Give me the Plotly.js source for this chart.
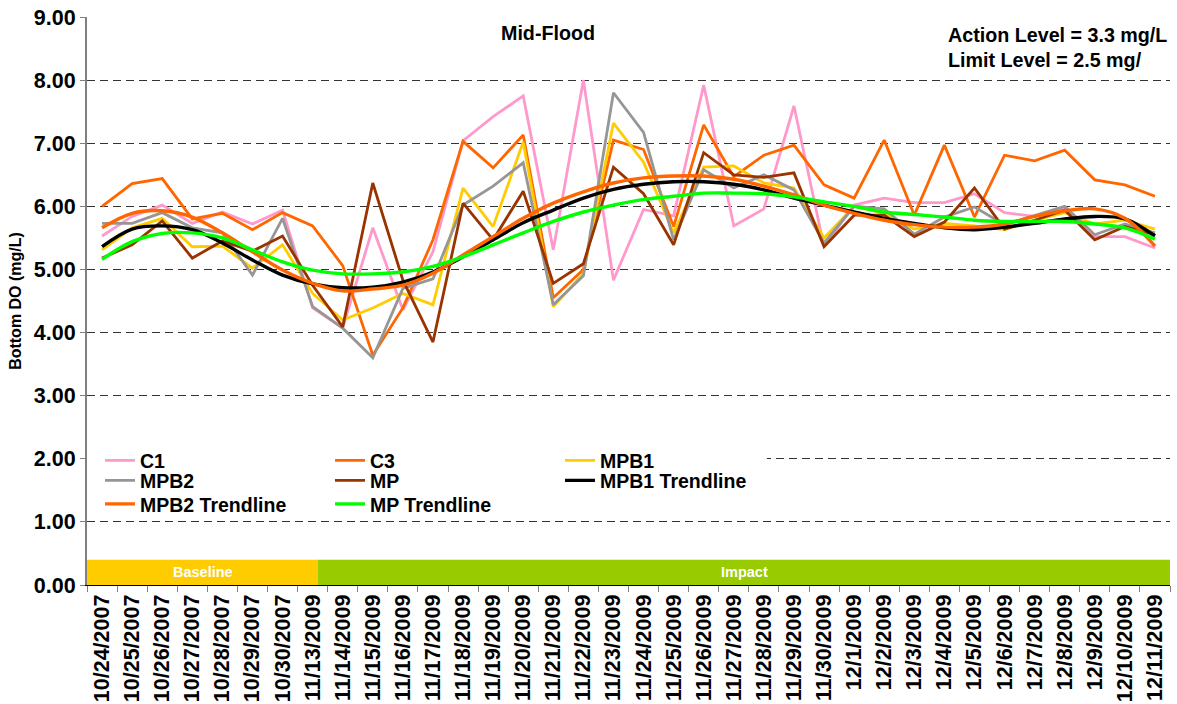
<!DOCTYPE html>
<html>
<head>
<meta charset="utf-8">
<script src="https://cdn.plot.ly/plotly-3.0.1.min.js"></script>
<style>html,body{margin:0;padding:0;background:#fff;}#chart{width:1177px;height:704px;}</style>
</head>
<body>
<div id="chart"></div>
<script>
var dates = ["10/24/2007","10/25/2007","10/26/2007","10/27/2007","10/28/2007","10/29/2007","10/30/2007",
  "11/13/2009","11/14/2009","11/15/2009","11/16/2009","11/17/2009","11/18/2009","11/19/2009","11/20/2009",
  "11/21/2009","11/22/2009","11/23/2009","11/24/2009","11/25/2009","11/26/2009","11/27/2009","11/28/2009",
  "11/29/2009","11/30/2009","12/1/2009","12/2/2009","12/3/2009","12/4/2009","12/5/2009","12/6/2009",
  "12/7/2009","12/8/2009","12/9/2009","12/10/2009","12/11/2009"];

var C1   = [5.53,5.84,6.02,5.73,5.91,5.72,5.94,4.39,4.07,5.66,4.36,5.28,7.04,7.42,7.75,5.31,8.00,4.83,5.95,5.85,7.92,5.69,5.96,7.59,5.36,6.02,6.13,6.06,6.06,6.20,5.90,5.84,5.96,5.52,5.52,5.34];
var C3   = [6.00,6.36,6.44,5.80,5.89,5.63,5.90,5.69,5.06,3.64,4.39,5.47,7.03,6.61,7.13,4.55,5.00,7.05,6.90,5.68,7.29,6.47,6.81,6.97,6.34,6.13,7.05,5.86,6.97,5.83,6.81,6.72,6.89,6.42,6.34,6.16];
var MPB1 = [5.31,5.66,5.81,5.36,5.37,5.02,5.39,4.62,4.20,4.39,4.62,4.44,6.29,5.68,7.02,4.41,4.94,7.32,6.70,5.58,6.62,6.64,6.37,6.29,5.50,6.00,5.89,5.64,5.73,5.69,5.63,5.78,5.90,5.72,5.78,5.64];
var MPB2 = [5.73,5.73,5.90,5.66,5.58,4.91,5.81,4.41,4.07,3.60,4.70,4.85,6.02,6.32,6.69,4.44,4.90,7.80,7.17,5.47,6.58,6.29,6.50,6.26,5.42,6.00,5.96,5.56,5.83,5.99,5.71,5.86,6.00,5.55,5.72,5.58];
var MP   = [5.18,5.39,5.77,5.18,5.45,5.29,5.53,4.75,4.09,6.37,4.83,3.85,6.05,5.47,6.24,4.78,5.09,6.62,6.20,5.39,6.85,6.50,6.46,6.53,5.36,5.86,5.86,5.52,5.75,6.29,5.64,5.78,5.94,5.47,5.68,5.55];

var MPB1_Trend = [5.36,5.64,5.69,5.63,5.42,5.15,4.91,4.77,4.71,4.72,4.80,4.96,5.20,5.47,5.74,5.94,6.13,6.27,6.35,6.39,6.39,6.35,6.26,6.13,6.02,5.91,5.81,5.73,5.66,5.63,5.67,5.73,5.80,5.84,5.80,5.53];
var MPB2_Trend = [5.66,5.89,5.93,5.83,5.58,5.28,4.99,4.78,4.66,4.69,4.75,4.94,5.23,5.52,5.81,6.05,6.23,6.37,6.45,6.48,6.48,6.43,6.32,6.18,6.02,5.89,5.78,5.71,5.67,5.67,5.72,5.84,5.93,5.96,5.81,5.37];
var MP_Trend   = [5.16,5.44,5.57,5.58,5.50,5.31,5.12,4.99,4.93,4.93,4.96,5.05,5.20,5.39,5.58,5.76,5.91,6.02,6.11,6.16,6.21,6.21,6.20,6.15,6.07,6.00,5.91,5.87,5.83,5.78,5.76,5.76,5.76,5.72,5.66,5.48];

var phaseNames = ["Baseline","Impact"];
var phaseFirst = ["10/24/2007","11/13/2009"];

var FONT = "Liberation Sans, Arial, Helvetica, sans-serif";

function line(name, y, color, width, legend, shape) {
  return {type:"scatter", mode:"lines", name:name, x:dates, y:y, legend:legend,
    line:{color:color, width:width, shape:shape||"linear", smoothing:1.0}, hoverinfo:"x+y+name"};
}

// legend rows: legend = row 1, legend2 = row 2, legend3 = row 3
var traces = [
  line("C1", C1, "#FF99CC", 2.8, "legend"),
  line("C3", C3, "#FF6600", 2.8, "legend"),
  line("MPB1", MPB1, "#FFCC00", 2.8, "legend"),
  line("MPB2", MPB2, "#969696", 2.8, "legend2"),
  line("MP", MP, "#993300", 2.8, "legend2"),
  line("MPB1 Trendline", MPB1_Trend, "#000000", 3.4, "legend2", "spline"),
  line("MPB2 Trendline", MPB2_Trend, "#FF6600", 3.4, "legend3", "spline"),
  line("MP Trendline", MP_Trend, "#00FF00", 3.4, "legend3", "spline")
];

var baselineEnd = dates.indexOf(phaseFirst[1]) + 0.18;
var lastIdx = dates.length - 0.5;
var barTop = 0.4;

function leg(y) {
  return {
    orientation:"h", x:0.012, y:y, xanchor:"left", yanchor:"top",
    bgcolor:"rgba(0,0,0,0)", borderwidth:0, entrywidth:185, entrywidthmode:"pixels",
    font:{family:FONT, size:19.5, color:"#000", weight:"bold"}, tracegroupgap:0, itemwidth:30
  };
}

var layout = {
  width:1177, height:704,
  margin:{l:87, r:7, t:17, b:119, autoexpand:false},
  paper_bgcolor:"#fff", plot_bgcolor:"#fff",
  font:{family:FONT, color:"#000"},
  showlegend:true,
  legend: leg(0.2530),
  legend2: leg(0.2180),
  legend3: leg(0.1765),
  xaxis:{
    type:"category", range:[-0.5, dates.length-0.5], tickmode:"linear", dtick:1, tick0:0,
    tickangle:-90, tickfont:{family:FONT, size:21.5, color:"#000", weight:"bold"},
    ticks:"outside", ticklen:6, tickcolor:"#808080", tickson:"boundaries",
    showline:true, linecolor:"#000", linewidth:1, showgrid:false, zeroline:false,
    automargin:false
  },
  yaxis:{
    range:[0,9], tickmode:"linear", tick0:0, dtick:1, tickformat:".2f",
    tickfont:{family:FONT, size:21.5, color:"#000", weight:"bold"},
    ticks:"outside", ticklen:5, tickcolor:"#808080",
    showline:true, linecolor:"#808080", linewidth:2,
    showgrid:true, gridcolor:"#333333", gridwidth:1, griddash:"8px,5px",
    zeroline:false, automargin:false,
    title:{text:"Bottom DO (mg/L)", font:{family:FONT, size:16, color:"#000", weight:"bold"}, standoff:8}
  },
  shapes:[
    {type:"rect", xref:"x", yref:"y", x0:-0.5, x1:22.1, y0:1.15, y1:2.3, fillcolor:"#fff", line:{width:0}, layer:"above"},
    {type:"rect", xref:"x", yref:"y", x0:-0.5, x1:baselineEnd, y0:0, y1:barTop, fillcolor:"#FFCC00", line:{width:0}, layer:"above"},
    {type:"rect", xref:"x", yref:"y", x0:baselineEnd, x1:lastIdx, y0:0, y1:barTop, fillcolor:"#99CC00", line:{width:0}, layer:"above"}
  ],
  annotations:[
    {xref:"x", yref:"y", x:(-0.5+baselineEnd)/2, y:barTop/2, text:phaseNames[0], showarrow:false,
     font:{family:FONT, size:14.5, color:"#fff", weight:"bold"}},
    {xref:"x", yref:"y", x:(baselineEnd+lastIdx)/2, y:barTop/2, text:phaseNames[1], showarrow:false,
     font:{family:FONT, size:14.5, color:"#fff", weight:"bold"}},
    {xref:"paper", yref:"paper", x:0.4257, y:0.9718, text:"Mid-Flood", showarrow:false, xanchor:"center", yanchor:"middle",
     font:{family:FONT, size:19.7, color:"#000", weight:"bold"}},
    {xref:"paper", yref:"paper", x:0.7935, y:0.968, text:"Action Level = 3.3 mg/L", showarrow:false, xanchor:"left", yanchor:"middle",
     font:{family:FONT, size:19.7, color:"#000", weight:"bold"}},
    {xref:"paper", yref:"paper", x:0.7935, y:0.924, text:"Limit Level = 2.5 mg/", showarrow:false, xanchor:"left", yanchor:"middle",
     font:{family:FONT, size:19.7, color:"#000", weight:"bold"}}
  ]
};

Plotly.newPlot("chart", traces, layout, {displayModeBar:false, staticPlot:true});
</script>
</body>
</html>
